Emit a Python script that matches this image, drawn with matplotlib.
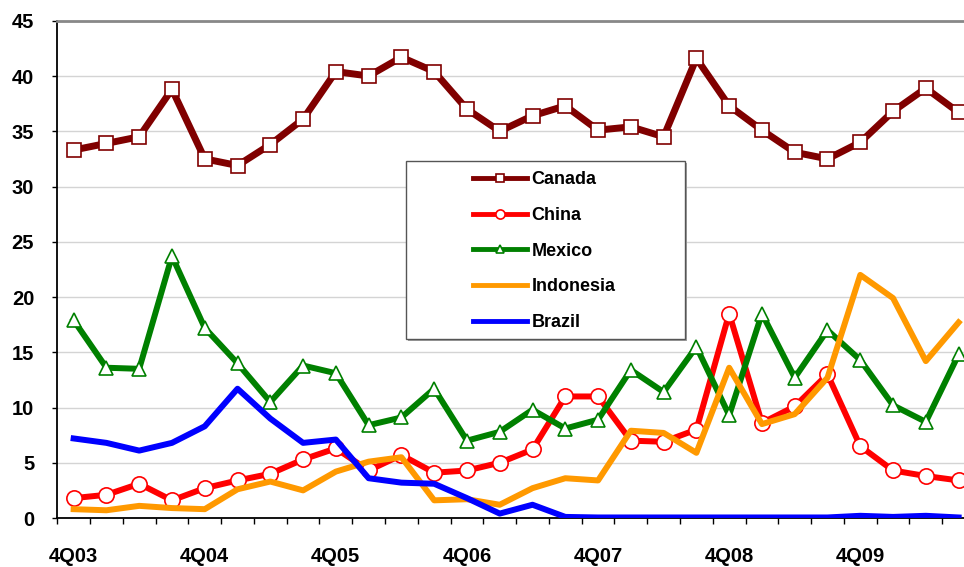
import matplotlib
matplotlib.use("Agg")
import matplotlib.pyplot as plt
from matplotlib.patches import Rectangle
import numpy as np

plt.rcParams["font.family"] = ["Liberation Sans", "DejaVu Sans"]

quarters = ["4Q03", "1Q04", "2Q04", "3Q04", "4Q04", "1Q05", "2Q05", "3Q05",
            "4Q05", "1Q06", "2Q06", "3Q06", "4Q06", "1Q07", "2Q07", "3Q07",
            "4Q07", "1Q08", "2Q08", "3Q08", "4Q08", "1Q09", "2Q09", "3Q09",
            "4Q09", "1Q10", "2Q10", "3Q10"]

canada = [33.3, 33.9, 34.5, 38.8, 32.5, 31.9, 33.8, 36.1, 40.4, 40.0, 41.7, 40.4,
          37.0, 35.0, 36.4, 37.3, 35.1, 35.4, 34.5, 41.6, 37.3, 35.1, 33.1, 32.5,
          34.0, 36.8, 38.9, 36.7]
china = [1.8, 2.1, 3.1, 1.6, 2.7, 3.4, 4.0, 5.3, 6.3, 4.3, 5.7, 4.1,
         4.3, 5.0, 6.2, 11.0, 11.0, 7.0, 6.9, 8.0, 18.5, 8.6, 10.1, 13.0,
         6.5, 4.3, 3.8, 3.4]
mexico = [17.9, 13.6, 13.5, 23.7, 17.2, 14.0, 10.5, 13.8, 13.1, 8.4, 9.1, 11.7,
          7.0, 7.8, 9.8, 8.1, 8.9, 13.4, 11.4, 15.5, 9.3, 18.5, 12.7, 17.0,
          14.3, 10.2, 8.7, 14.8]
indonesia = [0.8, 0.7, 1.1, 0.9, 0.8, 2.6, 3.3, 2.5, 4.2, 5.1, 5.5, 1.6,
             1.7, 1.2, 2.7, 3.6, 3.4, 7.9, 7.7, 5.9, 13.6, 8.5, 9.4, 12.7,
             22.0, 19.9, 14.2, 17.7]
brazil = [7.2, 6.8, 6.1, 6.8, 8.3, 11.7, 9.0, 6.8, 7.1, 3.6, 3.2, 3.1,
          1.8, 0.4, 1.2, 0.1, 0.05, 0.05, 0.05, 0.05, 0.05, 0.05, 0.05, 0.05,
          0.2, 0.1, 0.2, 0.05]

W, H = 964, 567
fig = plt.figure(figsize=(W / 100, H / 100), dpi=100)
ax = fig.add_axes([0.0594, 0.0864, 0.952, 0.877])
x = np.arange(len(quarters))

ax.plot(x, canada, color="#800000", lw=5, marker="s", ms=10,
        mfc="white", mec="#800000", mew=1.2, label="Canada", zorder=3)
ax.plot(x, china, color="#FF0000", lw=4.3, marker="o", ms=11,
        mfc="white", mec="#FF0000", mew=1.2, label="China", zorder=3)
ax.plot(x, mexico, color="#008000", lw=4.3, marker="^", ms=10,
        mfc="white", mec="#008000", mew=1.2, label="Mexico", zorder=3)
ax.plot(x, indonesia, color="#FF9900", lw=4.3, label="Indonesia", zorder=3)
ax.plot(x, brazil, color="#0000FF", lw=4.3, label="Brazil", zorder=3)

ax.set_xlim(-0.5, len(quarters) - 0.5)
ax.set_ylim(0, 45)
ax.set_yticks(np.arange(0, 46, 5))
ax.yaxis.grid(True, color="#D4D4D4", lw=1)
ax.set_axisbelow(True)

ax.set_xticks(np.arange(-0.5, len(quarters), 1))
ax.set_xticklabels([])
ax.set_xticks(x[::4], minor=True)
ax.set_xticklabels(quarters[::4], minor=True)
ax.tick_params(axis="x", which="major", length=4.3, width=1, direction="out")
ax.tick_params(axis="x", which="minor", length=0, pad=21, labelsize=14.5)
ax.tick_params(axis="y", length=3.6, width=1, direction="out", pad=13,
               labelsize=14.5)
for lab in ax.get_xticklabels(minor=True) + ax.get_yticklabels():
    lab.set_fontweight("bold")

ax.spines["top"].set_color("#888888")
ax.spines["top"].set_linewidth(2)
ax.spines["left"].set_linewidth(1.3)
ax.spines["bottom"].set_linewidth(1.3)
ax.spines["right"].set_visible(False)

# legend box with a small shadow, drawn in pixel coords
x0, y0, x1, y1 = 405.7, 160.7, 685, 339
fig.add_artist(Rectangle(((x0 + 2) / W, 1 - (y1 + 2) / H), (x1 - x0) / W,
                         (y1 - y0) / H, transform=fig.transFigure,
                         facecolor="#A0A0A0", edgecolor="none", zorder=4))
fig.add_artist(Rectangle((x0 / W, 1 - y1 / H), (x1 - x0) / W, (y1 - y0) / H,
                         transform=fig.transFigure, facecolor="white",
                         edgecolor="#555555", lw=1, zorder=4.5))

leg = fig.legend(*ax.get_legend_handles_labels(), loc="upper left",
                 bbox_to_anchor=(472.7 / W, 1 - 171.5 / H),
                 prop={"weight": "bold", "size": 13}, frameon=False,
                 markerscale=0.6, handlelength=3.0, labelspacing=1.03,
                 borderpad=0, handletextpad=0.25, borderaxespad=0)
leg.set_zorder(5)
for h in leg.get_lines():
    h.set_linewidth(3.5)

fig.savefig("out.png", dpi=100, facecolor="white")
